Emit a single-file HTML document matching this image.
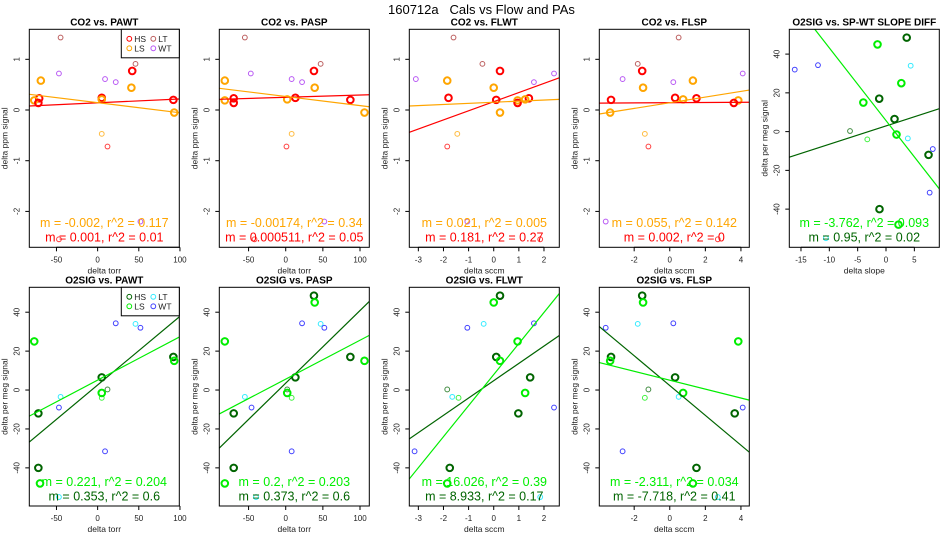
<!DOCTYPE html>
<html><head><meta charset="utf-8">
<style>
html,body{margin:0;padding:0;background:#fff;}
svg{display:block;font-family:"Liberation Sans",Arial,sans-serif;}
</style></head>
<body>
<svg id="chart" width="950" height="550" viewBox="0 0 950 550" xmlns="http://www.w3.org/2000/svg">
<text x="388" y="14" font-size="13" style="white-space:pre" xml:space="preserve">160712a   Cals vs Flow and PAs</text>
</svg>
<script>
// ---------- data ----------
const grpCO2 = ['LT','LT','HS','WT','WT','LS','WT','LS','HS','HS','LS','HS','LS','HS','LS','ls','hs','WT','hs'];
const co2Y = [1.43,0.91,0.77,0.72,0.61,0.58,0.55,0.44,0.24,0.23,0.21,0.2,0.19,0.14,-0.05,-0.47,-0.72,-2.2,-2.55];
const pawtXco2 = [-45,46,42,-47,9,-69,22,41,5,-71,5,92,-77,-72,93,5,12,52,-47];
const paspXco2 = [-55,47,38,-47,8,-82,22,39,13,-70,2,87,-82,-70,106,8,1,52,-42];
const flwtXco2 = [-1.6,-0.45,0.25,2.4,-3.1,-1.85,1.6,0.0,-1.8,1.4,1.25,0.1,0.95,0.95,0.25,-1.45,-1.85,-1.05,1.85];
const flspXco2 = [0.5,-1.8,-1.55,4.1,-2.65,1.3,0.2,-1.5,0.3,1.5,0.75,-3.3,3.85,3.6,-3.35,-1.4,-1.2,-3.6,2.7];

const grpO2 = ['HS','LS','WT','LT','WT','LS','HS','LS','HS','hs','LT','ls','LS','WT','HS','WT','HS','LS','LT'];
const o2Y = [48.5,45,34.3,34,32,25,17,15,6.5,0.3,-3.5,-4,-1.5,-9,-12,-31.5,-40,-48,-55];
const pawtXo2 = [null,null,22,46,52,-77,92,93,5,12,-45,5,5,-47,-72,9,-72,-70,-47];
const paspXo2 = [38,39,22,47,52,-82,87,106,13,2,-55,8,2,-46,-70,8,-70,-82,-40];
const flwtXo2 = [0.25,0.0,1.6,-0.4,-1.05,0.95,0.1,0.25,1.45,-1.85,-1.65,-1.4,1.25,2.4,0.98,-3.15,-1.75,-1.85,1.85];
const flspXo2 = [-1.55,-1.5,0.2,-1.8,-3.6,3.85,-3.3,-3.35,0.3,-1.2,0.5,-1.4,0.75,4.1,3.65,-2.65,1.5,1.3,2.7];
const slopeXo2 = [3.65,-1.5,-12,4.35,-16.1,2.7,-1.2,-4.0,1.5,-6.35,3.85,-3.3,1.85,8.25,7.5,7.7,-1.15,2.2,-10.6];

// regression lines: [HS, LS]
const slopesP1 = [0.00076,-0.00199], interceptsP1 = [0.142,0.145];
const slopesP2 = [0.000451,-0.0018], interceptsP2 = [0.251,0.267];
const slopesP3 = [0.18,0.022], interceptsP3 = [0.165,0.153];
const slopesP4 = [0.002,0.056], interceptsP4 = [0.144,0.143];
const slopesP5 = [0.946,-3.75], interceptsP5 = [2.94,5.7];
const slopesP6 = [0.353,0.223], interceptsP6 = [2.6,5.1];
const slopesP7 = [0.373,0.2], interceptsP7 = [3.55,5.6];
const slopesP8 = [8.9,15.96], interceptsP8 = [4.8,7.95];
const slopesP9 = [-7.66,-2.29], interceptsP9 = [2.3,5.05];

const annotLS = ['m = -0.002, r^2 = 0.117','m = -0.00174, r^2 = 0.34','m = 0.021, r^2 = 0.005','m = 0.055, r^2 = 0.142','m = -3.762, r^2 = 0.093','m = 0.221, r^2 = 0.204','m = 0.2, r^2 = 0.203','m = 16.026, r^2 = 0.39','m = -2.311, r^2 = 0.034'];
const annotHS = ['m = 0.001, r^2 = 0.01','m = 0.000511, r^2 = 0.05','m = 0.181, r^2 = 0.27','m = 0.002, r^2 = 0','m = 0.95, r^2 = 0.02','m = 0.353, r^2 = 0.6','m = 0.373, r^2 = 0.6','m = 8.933, r^2 = 0.17','m = -7.718, r^2 = 0.41'];

const ticksTorr = [-50,0,50,100];
const ticksFlwt = [-3,-2,-1,0,1,2];
const ticksFlsp = [-2,0,2,4];
const ticksSlope = [-15,-10,-5,0,5];
const ticksCO2 = [-2,-1,0,1];
const ticksO2 = [-40,-20,0,20,40];

// ---------- drawing ----------
const NS='http://www.w3.org/2000/svg';
const svg=document.getElementById('chart');
function mk(tag,attrs,parent){const e=document.createElementNS(NS,tag);for(const k in attrs)e.setAttribute(k,attrs[k]);(parent||svg).appendChild(e);return e;}

const colCO2={HS:'#ff0000',LS:'#ffa500',hs:'rgba(255,0,0,0.75)',ls:'rgba(255,165,0,0.75)',LT:'rgba(165,42,42,0.75)',WT:'rgba(160,32,240,0.75)'};
const colO2={HS:'#006400',LS:'#00ee00',hs:'rgba(0,100,0,0.75)',ls:'rgba(0,238,0,0.75)',LT:'rgba(0,230,255,0.8)',WT:'rgba(0,0,255,0.75)'};

function panel(p){
  const g=mk('g',{});
  
  
  const L=p.left,T=p.top,W=150,H=p.bottom-p.top,B=p.bottom;
  const sx=v=>L+(v-p.xd[0])/(p.xd[1]-p.xd[0])*W;
  const sy=v=>B-(v-p.yd[0])/(p.yd[1]-p.yd[0])*H;
  const cid='clip-'+p.name;
  const cp=mk('clipPath',{id:cid},g);mk('rect',{x:L,y:T,width:W,height:H},cp);
  const t=mk('text',{x:L+W/2,y:T-4,'font-size':10,'font-weight':'bold','text-anchor':'middle'},g);t.textContent=p.title;
  
  
  const pts=mk('g',{'clip-path':'url(#'+cid+')'},g);
  for(let i=0;i<p.ys.length;i++){
    if(p.xs[i]===null)continue;
    const grp=p.grp[i];const thick=(grp==='HS'||grp==='LS');
    const c=mk('circle',{cx:sx(p.xs[i]),cy:sy(p.ys[i]),r:thick?3.3:2.4,fill:'none',stroke:p.col[grp],'stroke-width':thick?2:1},pts);
    
    
  }
  const lineCols=[p.col.HS,p.col.LS];
  for(let k=0;k<2;k++){
    const l=mk('line',{x1:sx(p.xd[0]),y1:sy(p.slopes[k]*p.xd[0]+p.ints[k]),x2:sx(p.xd[1]),y2:sy(p.slopes[k]*p.xd[1]+p.ints[k]),stroke:lineCols[k],'stroke-width':1.2,'clip-path':'url(#'+cid+')'},g);
    
    
  }
  const bx=mk('rect',{x:L,y:T,width:W,height:H,fill:'none',stroke:'#000','stroke-width':1},g);
  
  
  const xs0=sx(p.xt[0]),xs1=sx(p.xt[p.xt.length-1]);
  mk('line',{x1:xs0,y1:B,x2:xs1,y2:B,stroke:'#000'},g);
  p.xt.forEach(v=>{
    mk('line',{x1:sx(v),y1:B,x2:sx(v),y2:B+4,stroke:'#000'},g);
    const tx=mk('text',{x:sx(v),y:B+15,'font-size':8,'text-anchor':'middle',fill:'#222'},g);tx.textContent=v;
    
    
  });
  p.yt.forEach(v=>{
    mk('line',{x1:L-4,y1:sy(v),x2:L,y2:sy(v),stroke:'#000'},g);
    const ty=mk('text',{x:L-10,y:sy(v),'font-size':8,'text-anchor':'middle',fill:'#222',transform:'rotate(-90 '+(L-10)+' '+sy(v)+')'},g);ty.textContent=v;
    
    
  });
  const xl=mk('text',{x:L+W/2,y:B+26,'font-size':8.5,'text-anchor':'middle',fill:'#222'},g);xl.textContent=p.xlab;
  
  
  const yc=(T+B)/2;
  const yl=mk('text',{x:L-22,y:yc,'font-size':8.5,'text-anchor':'middle',fill:'#222',transform:'rotate(-90 '+(L-22)+' '+yc+')'},g);yl.textContent=p.ylab;
  
  
  const a1=mk('text',{x:L+W/2,y:p.ann[0],'font-size':12.5,'text-anchor':'middle',fill:p.col.LS},g);a1.textContent=p.txtLS;
  
  
  const a2=mk('text',{x:L+W/2,y:p.ann[1],'font-size':12.5,'text-anchor':'middle',fill:p.col.HS},g);a2.textContent=p.txtHS;
  
  
  if(p.legend){
    const lg=mk('g',{},g);
    
    
    mk('rect',{x:L+W-58,y:T,width:58,height:28.5,fill:'#fff',stroke:'#000'},lg);
    const items=[['HS',0,0],['LT',1,0],['LS',0,1],['WT',1,1]];
    items.forEach(it=>{
      const ex=L+W-50+it[1]*24,ey=T+9.5+it[2]*9.5;
      const c=mk('circle',{cx:ex,cy:ey,r:2.4,fill:'none',stroke:p.col[it[0]]},lg);
      
      
      const tt=mk('text',{x:ex+5,y:ey+3,'font-size':8.5,fill:'#222'},lg);tt.textContent=it[0];
      
      
    });
  }
}
const R1={top:29.3,bottom:247.3,yd:[-2.708,1.592],yt:ticksCO2,ys:co2Y,grp:grpCO2,col:colCO2,ylab:'delta ppm signal',ann:[227,241.5]};
const R2={top:287.3,bottom:506,yd:[-59.6,52.8],yt:ticksO2,ys:o2Y,grp:grpO2,col:colO2,ylab:'delta per meg signal',ann:[486,500.5]};
const lefts=[29.3,219.3,409.3,599.3,789.3];
panel(Object.assign({},R1,{name:'panel-co2-pawt',title:'CO2 vs. PAWT',left:lefts[0],xd:[-83,99.2],xt:ticksTorr,xs:pawtXco2,xlab:'delta torr',slopes:slopesP1,ints:interceptsP1,txtLS:annotLS[0],txtHS:annotHS[0],legend:true}));
panel(Object.assign({},R1,{name:'panel-co2-pasp',title:'CO2 vs. PASP',left:lefts[1],xd:[-89.4,112.5],xt:ticksTorr,xs:paspXco2,xlab:'delta torr',slopes:slopesP2,ints:interceptsP2,txtLS:annotLS[1],txtHS:annotHS[1]}));
panel(Object.assign({},R1,{name:'panel-co2-flwt',title:'CO2 vs. FLWT',left:lefts[2],xd:[-3.36,2.61],xt:ticksFlwt,xs:flwtXco2,xlab:'delta sccm',slopes:slopesP3,ints:interceptsP3,txtLS:annotLS[2],txtHS:annotHS[2]}));
panel(Object.assign({},R1,{name:'panel-co2-flsp',title:'CO2 vs. FLSP',left:lefts[3],xd:[-3.96,4.47],xt:ticksFlsp,xs:flspXco2,xlab:'delta sccm',slopes:slopesP4,ints:interceptsP4,txtLS:annotLS[3],txtHS:annotHS[3]}));
panel(Object.assign({},R2,{name:'panel-o2sig-slope-diff',title:'O2SIG vs. SP-WT SLOPE DIFF',left:lefts[4],top:29.3,bottom:247.3,yd:[-59.7,52.8],xd:[-17.06,9.4],xt:ticksSlope,xs:slopeXo2,xlab:'delta slope',slopes:slopesP5,ints:interceptsP5,txtLS:annotLS[4],txtHS:annotHS[4],ann:[227,241.5]}));
panel(Object.assign({},R2,{name:'panel-o2sig-pawt',title:'O2SIG vs. PAWT',left:lefts[0],xd:[-83,99.2],xt:ticksTorr,xs:pawtXo2,xlab:'delta torr',slopes:slopesP6,ints:interceptsP6,txtLS:annotLS[5],txtHS:annotHS[5],legend:true}));
panel(Object.assign({},R2,{name:'panel-o2sig-pasp',title:'O2SIG vs. PASP',left:lefts[1],xd:[-89.4,112.5],xt:ticksTorr,xs:paspXo2,xlab:'delta torr',slopes:slopesP7,ints:interceptsP7,txtLS:annotLS[6],txtHS:annotHS[6]}));
panel(Object.assign({},R2,{name:'panel-o2sig-flwt',title:'O2SIG vs. FLWT',left:lefts[2],xd:[-3.36,2.61],xt:ticksFlwt,xs:flwtXo2,xlab:'delta sccm',slopes:slopesP8,ints:interceptsP8,txtLS:annotLS[7],txtHS:annotHS[7]}));
panel(Object.assign({},R2,{name:'panel-o2sig-flsp',title:'O2SIG vs. FLSP',left:lefts[3],xd:[-3.96,4.47],xt:ticksFlsp,xs:flspXo2,xlab:'delta sccm',slopes:slopesP9,ints:interceptsP9,txtLS:annotLS[8],txtHS:annotHS[8]}));
</script>
</body></html>
